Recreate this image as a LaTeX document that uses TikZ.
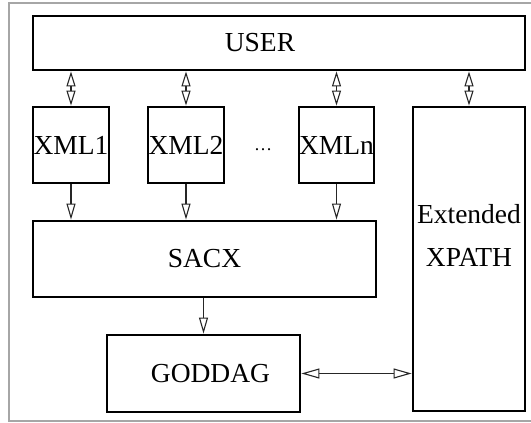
\documentclass[tikz,border=0pt]{standalone}
\usepackage{fontspec}
\setmainfont{Liberation Serif}
\usetikzlibrary{arrows.meta, positioning}

\begin{document}
\begin{tikzpicture}[x=1pt, y=-1pt,
    box/.style={rectangle, draw=black, line width=2.8pt, fill=white,
                inner sep=0pt, align=center,
                font=\fontsize{27.5}{43}\selectfont},
    arr/.style={-{Triangle[open, length=16pt, width=9pt, line width=1.1pt]},
                line width=1.1pt, color=black!85},
    darr/.style={{Triangle[open, length=15pt, width=9pt, line width=1.1pt]}-{Triangle[open, length=15pt, width=9pt, line width=1.1pt]},
                line width=1.1pt, color=black!85},
    harr/.style={{Triangle[open, length=18pt, width=10pt, line width=1.1pt]}-{Triangle[open, length=18pt, width=10pt, line width=1.1pt]},
                line width=1.1pt, color=black!85},
    dots/.style={font=\fontsize{18}{20}\selectfont}]

  \useasboundingbox (0,0) rectangle (531,423);

  %--- Rahmen ---
  \draw[gray!70, line width=1.2pt] (9,3) rectangle (545,421);

  %--- Obere Zeile: Benutzer ---
  \node[box, minimum width=492pt, minimum height=54pt] (user) at (279,43)
    {\raisebox{-5pt}{USER}\hspace*{38pt}};

  %--- XML-Dokumente ---
  \node[box, minimum width=76pt, minimum height=76pt] (xml1) at (71,145)   {\raisebox{-6pt}{XML1}};
  \node[box, minimum width=76pt, minimum height=76pt] (xml2) at (186,145)  {\raisebox{-6pt}{XML2}};
  \node[dots]                                         (dots) at (263,150)  {\dots};
  \node[box, minimum width=75pt, minimum height=76pt] (xmln) at (336.5,145) {\raisebox{-6pt}{XMLn}};

  %--- Rechte Spalte ---
  \node[box, minimum width=112pt, minimum height=304pt, text depth=48pt]
    (xpath) at (469,259) {Extended\\XPATH};

  %--- Untere Bausteine ---
  \node[box, minimum width=343pt, minimum height=76pt] (sacx)   at (204.5,259) {SACX};
  \node[box, minimum width=193pt, minimum height=77pt] (goddag) at (203.5,373.5)
    {\hspace*{14pt}GODDAG};

  %--- Verbindungen ---
  \draw[darr] (xml1.north)  -- (xml1.north  |- user.south);
  \draw[darr] (xml2.north)  -- (xml2.north  |- user.south);
  \draw[darr] (xmln.north)  -- (xmln.north  |- user.south);
  \draw[darr] (xpath.north) -- (xpath.north |- user.south);

  \draw[arr] (xml1.south) -- (xml1.south |- sacx.north);
  \draw[arr] (xml2.south) -- (xml2.south |- sacx.north);
  \draw[arr] (xmln.south) -- (xmln.south |- sacx.north);

  \draw[arr]  (goddag.north |- sacx.south) -- (goddag.north);
  \draw[harr] (goddag.east) -- (xpath.west |- goddag.east);
\end{tikzpicture}
\end{document}
